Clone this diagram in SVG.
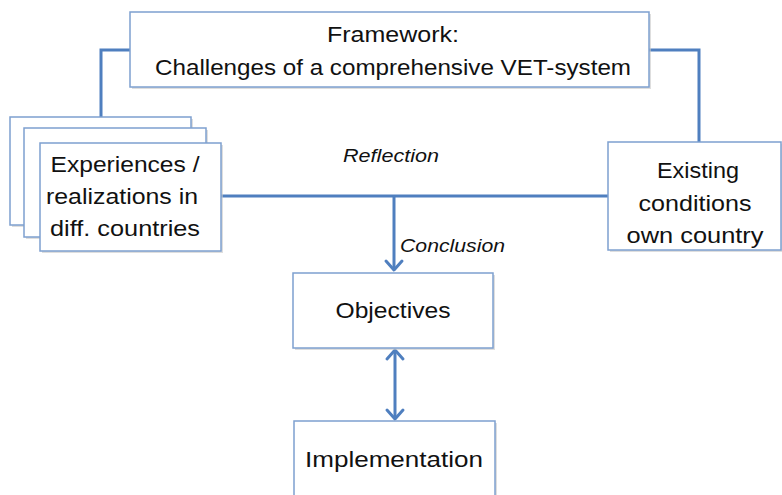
<svg xmlns="http://www.w3.org/2000/svg" width="782" height="495" viewBox="0 0 782 495">
<style>
  .box { fill: #ffffff; stroke: #7ea0cf; stroke-width: 1.5; }
  .shadow { fill: #c8c8c8; opacity: 0.6; }
  .t { font-family: "Liberation Sans", Arial, sans-serif; font-size: 21.5px; fill: #111111; text-anchor: middle; }
  .it { font-family: "Liberation Sans", Arial, sans-serif; font-size: 18px; font-style: italic; fill: #111111; }
  .conn { fill: none; stroke: #4f7fbf; stroke-width: 3; }
  .head { fill: none; stroke: #4f7fbf; stroke-width: 3; stroke-linecap: round; stroke-linejoin: round; }
</style>
<rect width="782" height="495" fill="#ffffff"/>

<g id="connectors">
  <polyline class="conn" points="130,50 101,50 101,117"/>
  <polyline class="conn" points="649,50 699,50 699,142"/>
  <line class="conn" x1="221" y1="196" x2="608" y2="196"/>
  <line class="conn" x1="394" y1="196" x2="394" y2="270"/>
  <polyline class="head" points="386,261 394,270 402,261"/>
  <line class="conn" x1="395" y1="351" x2="395" y2="418"/>
  <polyline class="head" points="387,359 395,350 403,359"/>
  <polyline class="head" points="387,410 395,419 403,410"/>
  <text class="it" x="343" y="162" textLength="96" lengthAdjust="spacingAndGlyphs">Reflection</text>
  <text class="it" x="400" y="252" textLength="105" lengthAdjust="spacingAndGlyphs">Conclusion</text>
</g>

<g id="framework">
  <rect class="shadow" x="132" y="14" width="519" height="75"/>
  <rect class="box" x="130" y="12" width="519" height="75"/>
  <text class="t" x="393" y="42" textLength="132" lengthAdjust="spacingAndGlyphs">Framework:</text>
  <text class="t" x="393" y="75" textLength="476" lengthAdjust="spacingAndGlyphs">Challenges of a comprehensive VET-system</text>
</g>

<g id="experiences">
  <rect class="shadow" x="12" y="119" width="181" height="108"/>
  <rect class="box" x="10" y="117" width="181" height="108"/>
  <rect class="shadow" x="26" y="130" width="182" height="109"/>
  <rect class="box" x="24" y="128" width="182" height="109"/>
  <rect class="shadow" x="42" y="145" width="181" height="108"/>
  <rect class="box" x="40" y="143" width="181" height="108"/>
  <text class="t" x="125" y="172" textLength="149" lengthAdjust="spacingAndGlyphs">Experiences /</text>
  <text class="t" x="122" y="204" textLength="152" lengthAdjust="spacingAndGlyphs">realizations in</text>
  <text class="t" x="125" y="236" textLength="150" lengthAdjust="spacingAndGlyphs">diff. countries</text>
</g>

<g id="existing">
  <rect class="shadow" x="610" y="144" width="172" height="108"/>
  <rect class="box" x="608" y="142" width="173" height="108"/>
  <text class="t" x="698" y="178" textLength="82" lengthAdjust="spacingAndGlyphs">Existing</text>
  <text class="t" x="695" y="211" textLength="113" lengthAdjust="spacingAndGlyphs">conditions</text>
  <text class="t" x="695" y="243" textLength="137" lengthAdjust="spacingAndGlyphs">own country</text>
</g>

<g id="objectives">
  <rect class="shadow" x="295" y="275" width="200" height="75"/>
  <rect class="box" x="293" y="273" width="200" height="75"/>
  <text class="t" x="393" y="318" textLength="115" lengthAdjust="spacingAndGlyphs">Objectives</text>
</g>

<g id="implementation">
  <rect class="shadow" x="296" y="423" width="201" height="80"/>
  <rect class="box" x="294" y="421" width="201" height="80"/>
  <text class="t" x="394" y="467" textLength="178" lengthAdjust="spacingAndGlyphs">Implementation</text>
</g>
</svg>
